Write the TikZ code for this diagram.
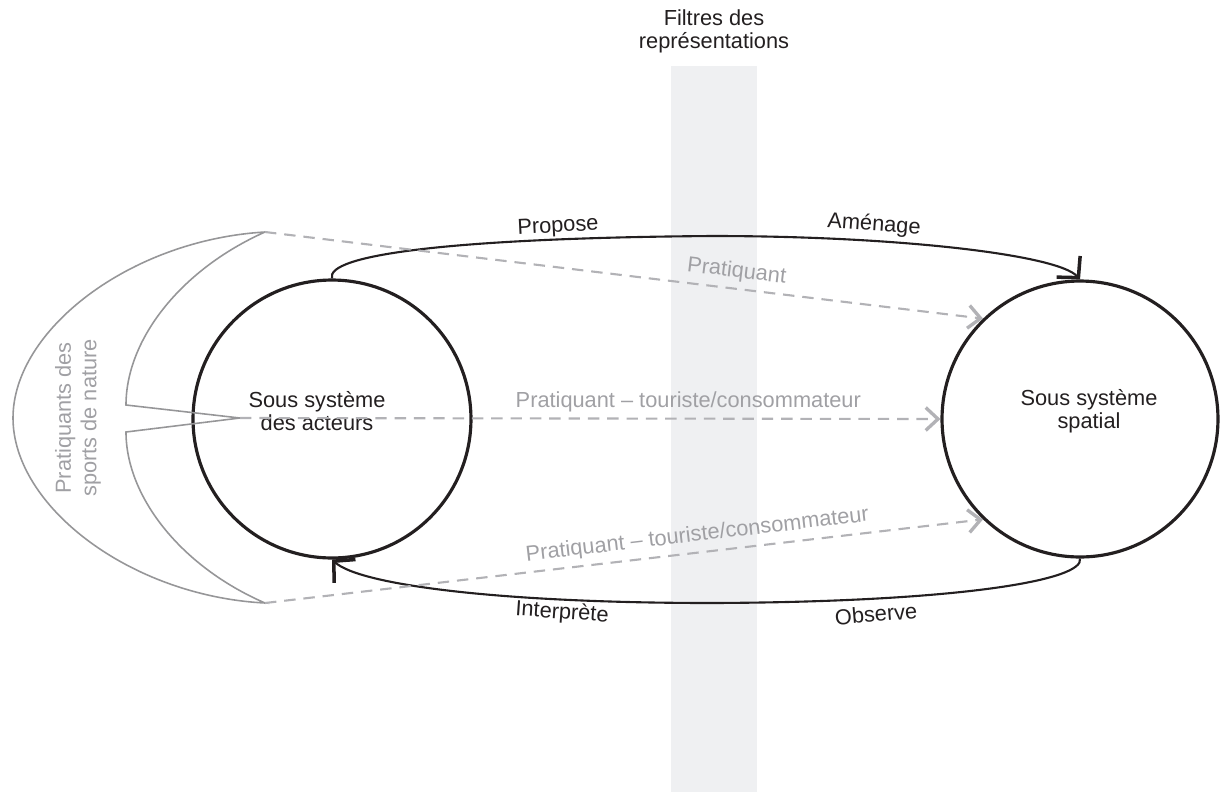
\documentclass[tikz,border=0pt]{standalone}
\usepackage{fontspec}
\setmainfont{Liberation Sans}
\usepackage{xcolor}
\definecolor{sysblack}{RGB}{35, 31, 32}
\definecolor{dashgray}{RGB}{178, 178, 182}
\definecolor{txtgray}{RGB}{160, 160, 164}
\definecolor{shapegray}{RGB}{150, 150, 152}
\definecolor{bandgray}{RGB}{239, 240, 242}
\usepackage{tikz}
\usetikzlibrary{arrows.meta}

\tikzset{
  sysnode/.style={circle, draw=sysblack, line width=1.8pt, inner sep=0pt},
  flowline/.style={draw=sysblack, line width=1.2pt, -{Straight Barb[length=8.5pt, width=18pt, line width=2pt]}},
  practline/.style={draw=dashgray, line width=1.2pt, dash pattern=on 6.5pt off 4.5pt,
    -{Straight Barb[length=7pt, width=13pt, line width=1.9pt]}},
  shapeline/.style={draw=shapegray, line width=0.9pt},
  blacklbl/.style={font=\fontsize{12.4}{13}\selectfont, text=sysblack},
  graylbl/.style={font=\fontsize{12.4}{14.5}\selectfont, text=txtgray},
}

\begin{document}
\begin{tikzpicture}[x=0.02cm, y=-0.02cm]
      \useasboundingbox (0,0) rectangle (1221,792);
      % Filter band
      \fill[bandgray] (671,66) rectangle (757,792);
      \node[blacklbl, align=center] (filtre) at (714,31) {Filtres des\\représentations};
      % Sub-systems
      \node[sysnode, minimum size=5.56cm] (acteurs) at (332,419) {};
      \node[sysnode, minimum size=5.52cm] (spatial) at (1080,419) {};
      \node[blacklbl, align=center] (acteurstxt) at (317,411) {Sous système\\des acteurs};
      \node[blacklbl, align=center] (spatialtxt) at (1089,411) {Sous système\\spatial};
      % Practitioners crescent
      \coordinate (pTop) at (265,232);
      \coordinate (pTip) at (240,418);
      \coordinate (pBot) at (265,603);
      \draw[shapeline] (pTop) .. controls (130,240) and (13,330) .. (13,418)
        .. controls (13,506) and (130,596) .. (pBot)
        .. controls (180,566) and (126,496) .. (126,432) -- (pTip) -- (126,405)
        .. controls (126,340) and (180,270) .. (pTop);
      \node[graylbl, rotate=90, align=center] (pratlbl) at (78,418) {Pratiquants des\\sports de nature};
      % Loop between the sub-systems
      \draw[flowline] (acteurs.north) .. controls (325,255) and (450,238) .. (712,236)
        .. controls (900,236) and (1058,255) .. (spatial.north);
      \draw[flowline] (spatial.south) .. controls (1085,580) and (960,602) .. (712,603)
        .. controls (500,603) and (360,585) .. (acteurs.south);
      \node[blacklbl, rotate=3] (propose) at (558,227) {Propose};
      \node[blacklbl, rotate=-4] (amenage) at (874,225) {Aménage};
      \node[blacklbl, rotate=-4] (interprete) at (562,613) {Interprète};
      \node[blacklbl, rotate=5] (observe) at (876,614) {Observe};
      % Practitioner flows
      \draw[practline] (pTop) -- node[graylbl, pos=0.654, above, sloped] {Pratiquant} (spatial.134);
      \draw[practline] (pTip) -- node[graylbl, pos=0.64, above] {Pratiquant – touriste/consommateur} (spatial.west);
      \draw[practline] (pBot) -- node[graylbl, pos=0.605, above, sloped] {Pratiquant – touriste/consommateur} (spatial.226);
    \end{tikzpicture}
\end{document}
